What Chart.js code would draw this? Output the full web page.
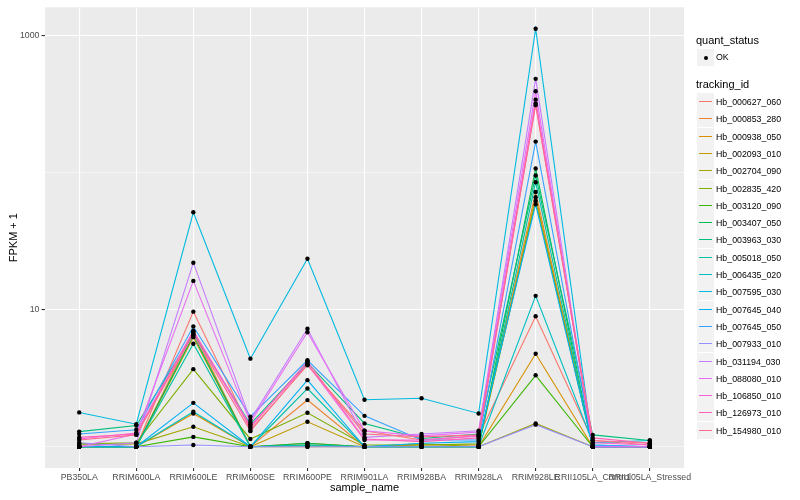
<!DOCTYPE html>
<html>
<head>
<meta charset="utf-8">
<script src="https://cdn.jsdelivr.net/npm/chart.js@4.4.1/dist/chart.umd.min.js"></script>
<style>
  body { margin: 0; background: #fff; font-family: "Liberation Sans", Arial, sans-serif; }
  #wrap { position: relative; width: 800px; height: 500px; }
  #chart { position: absolute; left: 0; top: 0; }
  .ttl { position: absolute; left: 696px; font-size: 11px; color: #000; line-height: 12px; }
  .key { position: absolute; left: 697px; width: 17px; height: 17px; background: #f2f2f2; }
  .lbl { position: absolute; left: 716px; font-size: 8.8px; color: #000; line-height: 10px; white-space: nowrap; }
</style>
</head>
<body>
<div id="wrap">
  <canvas id="chart" width="800" height="500"></canvas>
  <div id="legend"></div>
</div>
<script>
const sampleNames = ["PB350LA", "RRIM600LA", "RRIM600LE", "RRIM600SE", "RRIM600PE", "RRIM901LA",
    "RRIM928BA", "RRIM928LA", "RRIM928LE", "RRII105LA_Control", "RRII105LA_Stressed"];

const trackingIds = ["Hb_000627_060", "Hb_000853_280", "Hb_000938_050", "Hb_002093_010", "Hb_002704_090",
    "Hb_002835_420", "Hb_003120_090", "Hb_003407_050", "Hb_003963_030", "Hb_005018_050",
    "Hb_006435_020", "Hb_007595_030", "Hb_007645_040", "Hb_007645_050", "Hb_007933_010",
    "Hb_031194_030", "Hb_088080_010", "Hb_106850_010", "Hb_126973_010", "Hb_154980_010"];

const seriesColors = ["#F8766D", "#EA8331", "#D89000", "#C09B00", "#A3A500", "#7CAE00", "#39B600",
    "#00BB4E", "#00BF7D", "#00C1A3", "#00BFC4", "#00BAE0", "#00B0F6", "#35A2FF", "#9590FF",
    "#C77CFF", "#E76BF3", "#FA62DB", "#FF62BC", "#FF6C91"];

// FPKM + 1, one value per sample
const hb000627_060 = [1.00, 1.00, 9.67, 1.33, 3.93, 1.31, 1.12, 1.20, 8.94, 1.11, 1.03];
const hb000853_280 = [1.00, 1.00, 6.90, 1.00, 2.19, 1.00, 1.03, 1.03, 72, 1.00, 1.00];
const hb000938_050 = [1.00, 1.00, 1.75, 1.00, 1.06, 1.00, 1.00, 1.00, 4.77, 1.00, 1.00];
const hb002093_010 = [1.00, 1.00, 6.30, 1.00, 1.52, 1.00, 1.00, 1.00, 66, 1.00, 1.00];
const hb002704_090 = [1.03, 1.05, 1.40, 1.00, 1.00, 1.00, 1.05, 1.00, 1.48, 1.00, 1.00];
const hb002835_420 = [1.05, 1.07, 3.68, 1.14, 1.77, 1.03, 1.03, 1.05, 62, 1.00, 1.00];
const hb003120_090 = [1.00, 1.00, 1.18, 1.00, 1.03, 1.00, 1.00, 1.00, 3.32, 1.00, 1.00];
const hb003407_050 = [1.00, 1.00, 6.50, 1.00, 1.06, 1.00, 1.00, 1.00, 107, 1.00, 1.00];
const hb003963_030 = [1.29, 1.43, 6.70, 1.46, 4.10, 1.48, 1.15, 1.24, 95, 1.22, 1.11];
const hb005018_050 = [1.00, 1.00, 5.64, 1.00, 2.66, 1.00, 1.00, 1.00, 85, 1.00, 1.00];
const hb006435_020 = [1.00, 1.00, 1.80, 1.00, 1.03, 1.00, 1.00, 1.00, 12.6, 1.07, 1.11];
const hb007595_030 = [1.78, 1.46, 51.3, 4.39, 23.5, 2.20, 2.26, 1.75, 1118, 1.03, 1.00];
const hb007645_040 = [1.00, 1.00, 2.09, 1.00, 3.06, 1.00, 1.06, 1.09, 58.6, 1.00, 1.00];
const hb007645_050 = [1.24, 1.33, 7.53, 1.66, 4.27, 1.68, 1.12, 1.12, 168, 1.03, 1.00];
const hb007933_010 = [1.07, 1.00, 1.03, 1.00, 1.00, 1.00, 1.00, 1.00, 1.45, 1.00, 1.00];
const hb031194_030 = [1.00, 1.07, 22.0, 1.57, 7.25, 1.17, 1.24, 1.31, 482, 1.00, 1.00];
const hb088080_010 = [1.00, 1.24, 16.2, 1.50, 6.84, 1.31, 1.20, 1.28, 391, 1.00, 1.00];
const hb106850_010 = [1.14, 1.26, 7.00, 1.42, 4.00, 1.12, 1.12, 1.20, 340, 1.07, 1.03];
const hb126973_010 = [1.17, 1.24, 6.90, 1.38, 4.20, 1.14, 1.09, 1.16, 318, 1.16, 1.06];
const hb154980_010 = [1.12, 1.22, 6.60, 1.30, 3.98, 1.24, 1.18, 1.22, 310, 1.11, 1.06];

const seriesValues = [hb000627_060, hb000853_280, hb000938_050, hb002093_010, hb002704_090,
    hb002835_420, hb003120_090, hb003407_050, hb003963_030, hb005018_050, hb006435_020,
    hb007595_030, hb007645_040, hb007645_050, hb007933_010, hb031194_030, hb088080_010,
    hb106850_010, hb126973_010, hb154980_010];

const yGridValues = [1, 10, 100, 1000];
const yTickLabels = [10, 1000];

const FONT = "'Liberation Sans', Arial, sans-serif";

// legend on the right
const legend = document.getElementById("legend");
let legendHtml =
    '<div class="ttl" style="top:34px">quant_status</div>' +
    '<div class="key" style="top:49px"><div style="position:absolute;left:6.5px;top:6.5px;width:4px;height:4px;border-radius:2px;background:#000"></div></div>' +
    '<div class="lbl" style="top:52px">OK</div>' +
    '<div class="ttl" style="top:78px">tracking_id</div>';
trackingIds.forEach((id, i) => {
    const top = Math.round(93 + i * 17.3);
    legendHtml +=
        `<div class="key" style="top:${top}px"><div style="position:absolute;left:2px;width:13px;top:8px;height:1px;background:${seriesColors[i]}"></div></div>` +
        `<div class="lbl" style="top:${top + 3.5}px">${id}</div>`;
});
legend.innerHTML = legendHtml;

const panelBg = {
    id: "panelBg",
    beforeDraw(chart) {
        const {ctx, chartArea: a} = chart;
        ctx.save();
        ctx.fillStyle = "#EBEBEB";
        ctx.fillRect(a.left, a.top, a.right - a.left, a.bottom - a.top);
        ctx.restore();
    }
};

const lineSets = seriesValues.map((vals, i) => ({
    label: trackingIds[i],
    data: vals.map((v, j) => ({x: j, y: v})),
    showLine: true,
    borderColor: seriesColors[i],
    borderWidth: 1.1,
    pointRadius: 0,
    fill: false,
    order: 40 - i
}));

const pointSet = {
    label: "OK",
    data: seriesValues.flatMap(vals => vals.map((v, j) => ({x: j, y: v}))),
    showLine: false,
    pointRadius: 2.2,
    pointBackgroundColor: "#000",
    pointBorderWidth: 0,
    order: 0
};

new Chart(document.getElementById("chart"), {
    type: "scatter",
    data: { datasets: [pointSet, ...lineSets] },
    options: {
        responsive: false,
        animation: false,
        devicePixelRatio: 1,
        layout: { padding: { left: 0, right: 116, top: 5, bottom: 0 } },
        plugins: { legend: { display: false }, tooltip: { enabled: false } },
        scales: {
            x: {
                type: "linear",
                min: -0.6,
                max: 10.6,
                afterBuildTicks: s => { s.ticks = sampleNames.map((n, i) => ({value: i})); },
                afterFit: s => { s.height = 32; },
                ticks: {
                    autoSkip: false, maxRotation: 0, minRotation: 0,
                    callback: v => sampleNames[v],
                    color: "#4D4D4D", font: { size: 8.8, family: FONT }, padding: 1
                },
                grid: { color: "#fff", lineWidth: 1.1, tickColor: "#333", tickLength: 3 },
                border: { display: false },
                title: { display: true, text: "sample_name", color: "#000",
                    font: { size: 11, family: FONT }, padding: { top: 0, bottom: 5.4 } }
            },
            y: {
                type: "logarithmic",
                min: 0.705,
                max: 1603,
                afterBuildTicks: s => { s.ticks = yGridValues.map(v => ({value: v})); },
                afterFit: s => { s.width = 45; },
                ticks: {
                    callback: v => yTickLabels.includes(v) ? String(v) : "",
                    color: "#4D4D4D", font: { size: 8.8, family: FONT }, padding: 2
                },
                grid: {
                    color: "#fff",
                    lineWidth: c => yTickLabels.includes(c.tick && c.tick.value) ? 1.1 : 0.55,
                    tickColor: c => yTickLabels.includes(c.tick && c.tick.value) ? "#333" : "rgba(0,0,0,0)",
                    tickLength: 3.5
                },
                border: { display: false },
                title: { display: true, text: "FPKM + 1", color: "#000",
                    font: { size: 11, family: FONT }, padding: { top: 7.4, bottom: 0 } }
            }
        }
    },
    plugins: [panelBg]
});
</script>
</body>
</html>
